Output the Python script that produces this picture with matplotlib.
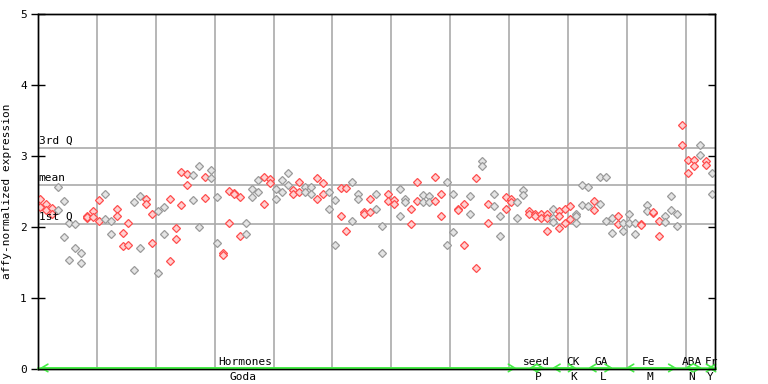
import matplotlib
matplotlib.use('Agg')
import matplotlib.pyplot as plt

# expression values per sample column (replicates share a column)
expr = [
    [2.40, 2.28], [2.32, 2.24], [2.27, 2.19], [2.56, 2.24], [2.37, 1.86],
    [2.06, 1.53], [2.04, 1.70], [1.64, 1.50], [2.16, 2.12, 2.14], [2.22, 2.14],
    [2.38, 2.08], [2.47, 2.11], [2.08, 1.90], [2.25, 2.16], [1.91, 1.73],
    [2.05, 1.74], [2.35, 1.40], [2.43, 1.71], [2.39, 2.32], [2.18, 1.78],
    [2.22, 1.35], [2.28, 1.90], [2.40, 1.52], [1.98, 1.83], [2.77, 2.31],
    [2.74, 2.59], [2.73, 2.38], [2.86, 2.00], [2.70, 2.41], [2.80, 2.69],
    [2.42, 1.78], [1.63, 1.60], [2.51, 2.05], [2.48, 2.47], [2.42, 1.88],
    [2.05, 1.90], [2.53, 2.42], [2.66, 2.49], [2.70, 2.33], [2.67, 2.62],
    [2.53, 2.40], [2.66, 2.49], [2.76, 2.59], [2.52, 2.46], [2.64, 2.50],
    [2.57, 2.49], [2.57, 2.47], [2.69, 2.40], [2.62, 2.47], [2.50, 2.26],
    [2.38, 1.74], [2.55, 2.16], [2.55, 1.95], [2.63, 2.09], [2.46, 2.39],
    [2.21, 2.18], [2.39, 2.21], [2.47, 2.25], [2.02, 1.64], [2.46, 2.36],
    [2.38, 2.32], [2.53, 2.15], [2.40, 2.35], [2.25, 2.04], [2.64, 2.36],
    [2.45, 2.35], [2.43, 2.35], [2.70, 2.36], [2.47, 2.16], [2.64, 1.74],
    [2.46, 1.93], [2.26, 2.24], [2.33, 1.74], [2.43, 2.18], [2.69, 1.42],
    [2.93, 2.86], [2.32, 2.05], [2.46, 2.29], [2.16, 1.88], [2.42, 2.26],
    [2.40, 2.35], [2.35, 2.12], [2.52, 2.45], [2.22, 2.19], [2.18, 2.15],
    [2.18, 2.12], [2.19, 2.12, 1.94], [2.25, 2.12, 2.07], [2.22, 2.15, 1.98], [2.26, 2.05],
    [2.30, 2.11], [2.18, 2.15, 2.05], [2.59, 2.31], [2.57, 2.29], [2.36, 2.24],
    [2.70, 2.33], [2.70, 2.08], [2.12, 1.91], [2.15, 2.04], [2.05, 1.94],
    [2.19, 2.05], [2.05, 1.90], [2.04, 2.03], [2.31, 2.22], [2.20, 2.21],
    [2.09, 1.87], [2.16, 2.07], [2.43, 2.24], [2.18, 2.01], [3.43, 3.15],
    [2.94, 2.76], [2.94, 2.86], [3.15, 3.02], [2.93, 2.87], [2.76, 2.47],
]

# 0 = red sample set, 1 = gray sample set
sample_set = [
    0, 0, 0, 1, 1, 1, 1, 1, 0, 0,
    0, 1, 1, 0, 0, 0, 1, 1, 0, 0,
    1, 1, 0, 0, 0, 0, 1, 1, 0, 1,
    1, 0, 0, 0, 0, 1, 1, 1, 0, 0,
    1, 1, 1, 0, 0, 1, 1, 0, 0, 1,
    1, 0, 0, 1, 1, 0, 0, 1, 1, 0,
    0, 1, 1, 0, 0, 1, 1, 0, 0, 1,
    1, 0, 0, 1, 0, 1, 0, 1, 1, 0,
    0, 1, 1, 0, 0, 0, 0, 1, 0, 0,
    0, 1, 1, 1, 0, 1, 1, 1, 0, 1,
    1, 1, 0, 1, 0, 0, 1, 1, 1, 0,
    0, 0, 1, 0, 1,
]

q1, mean_val, q3 = 2.04, 2.59, 3.11

groups = ['Hormones', 'seed', 'CK', 'GA', 'Fe', 'ABA', 'Fr']
authors = ['Goda', 'P', 'K', 'L', 'M', 'N', 'Y']
group_start = [0.0, 83.0, 86.9, 93.0, 99.4, 109.4, 113.3]
group_end = [80.8, 85.6, 91.0, 97.2, 108.0, 112.3, 114.4]
group_label_x = [34.8, 84.3, 90.4, 95.3, 103.3, 110.6, 113.9]
author_label_x = [34.4, 84.5, 90.6, 95.5, 103.5, 110.6, 113.7]

mono = 'DejaVu Sans Mono'
grid_c = '#aaaaaa'
red = '#ff4d4d'
gray = '#9a9a9a'
green = '#44ee44'

fig = plt.figure(figsize=(7.68, 3.84), dpi=100)
ax = fig.add_axes([38 / 768, 15 / 384, 677 / 768, 355 / 384])
ax.set_xlim(-0.34, 114.53)
ax.set_ylim(0, 5)

for k in range(11):
    ax.axvline(9.62 + 10 * k, color=grid_c, lw=1.2, zorder=1)
for v in (q1, mean_val, q3):
    ax.axhline(v, color=grid_c, lw=1.2, zorder=1)

for i, vals in enumerate(expr):
    if sample_set[i] == 0:
        fc, ec = '#ffd0d0', red
    else:
        fc, ec = '#e4e4e4', gray
    ax.plot([i] * len(vals), vals, linestyle='none', marker='D', markersize=3.9,
            markerfacecolor=fc, markeredgecolor=ec, markeredgewidth=0.9, zorder=3)

for v, lab in ((q3, '3rd Q'), (mean_val, 'mean'), (q1, '1st Q')):
    ax.text(-0.25, v + 0.03, lab, family=mono, fontsize=8, ha='left', va='bottom', zorder=4)

# experiment group arrows along the bottom
ax.plot([-0.34, 114.53], [0.015, 0.015], color=green, lw=1.8, clip_on=False, zorder=5)
for s, e in zip(group_start, group_end):
    ax.annotate('', xy=(e, 0.015), xytext=(s, 0.015),
                arrowprops=dict(arrowstyle='<->, head_length=0.5, head_width=0.3', color=green,
                                lw=1.2, mutation_scale=9, shrinkA=0, shrinkB=0),
                annotation_clip=False, zorder=6)
for x, lab in zip(group_label_x, groups):
    ax.text(x, 0.1, lab, family=mono, fontsize=8, ha='center', va='center', clip_on=False)
for x, lab in zip(author_label_x, authors):
    ax.text(x, -0.11, lab, family=mono, fontsize=8, ha='center', va='center', clip_on=False)

ax.set_xticks([])
ax.set_yticks(range(6))
ax.set_yticklabels([str(t) for t in range(6)], family=mono, fontsize=8)
ax.tick_params(axis='y', direction='inout', length=10, width=1, pad=3)
ax.set_ylabel('affy-normalized expression', family=mono, fontsize=8, labelpad=6)

ax2 = ax.twinx()
ax2.set_ylim(0, 5)
ax2.set_yticks(range(6))
ax2.tick_params(axis='y', direction='in', length=5, width=1, labelright=False)

for a in (ax, ax2):
    for sp in a.spines.values():
        sp.set_color('black')
        sp.set_linewidth(1)

fig.savefig('out.png', dpi=100)
